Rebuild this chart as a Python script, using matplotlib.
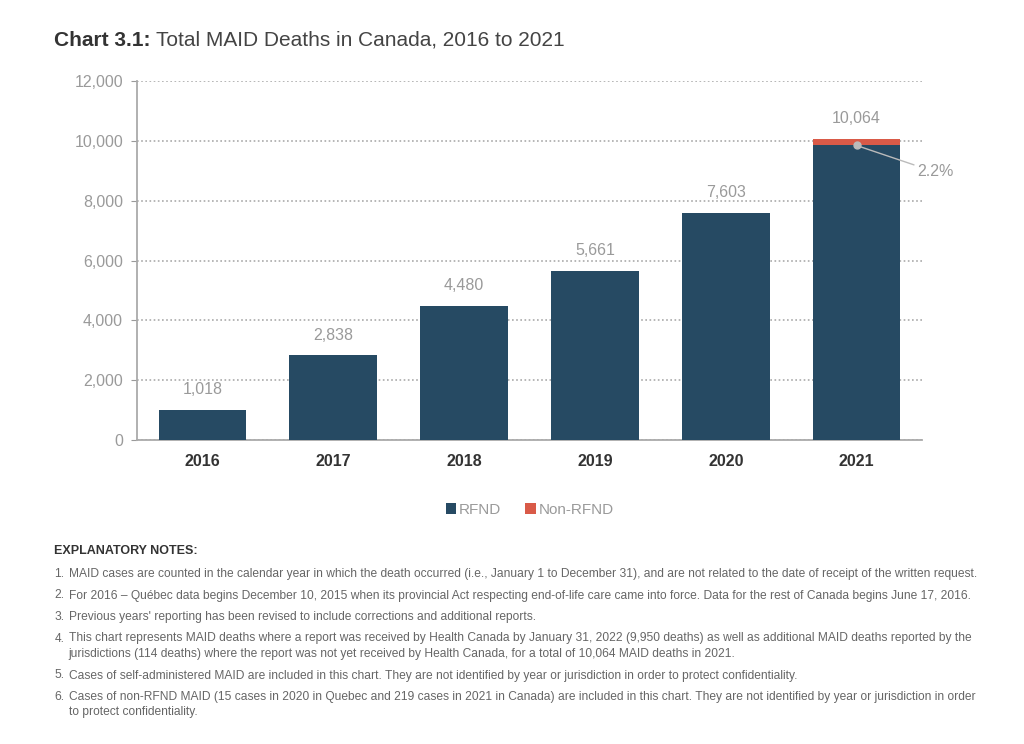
import matplotlib.pyplot as plt

years = ['2016', '2017', '2018', '2019', '2020', '2021']
rfnd = [1018, 2838, 4480, 5661, 7588, 9845]
non_rfnd = [0, 0, 0, 0, 15, 219]
totals = [1018, 2838, 4480, 5661, 7603, 10064]
pct_label = '2.2%'

notes = [
    ('1.', ['MAID cases are counted in the calendar year in which the death occurred (i.e., January 1 to December 31), and are not related to the date of receipt of the written request.']),
    ('2.', ['For 2016 \u2013 Qu\u00e9bec data begins December 10, 2015 when its provincial Act respecting end-of-life care came into force. Data for the rest of Canada begins June 17, 2016.']),
    ('3.', ["Previous years' reporting has been revised to include corrections and additional reports."]),
    ('4.', ['This chart represents MAID deaths where a report was received by Health Canada by January 31, 2022 (9,950 deaths) as well as additional MAID deaths reported by the',
            'jurisdictions (114 deaths) where the report was not yet received by Health Canada, for a total of 10,064 MAID deaths in 2021.']),
    ('5.', ['Cases of self-administered MAID are included in this chart. They are not identified by year or jurisdiction in order to protect confidentiality.']),
    ('6.', ['Cases of non-RFND MAID (15 cases in 2020 in Quebec and 219 cases in 2021 in Canada) are included in this chart. They are not identified by year or jurisdiction in order',
            'to protect confidentiality.']),
]

plt.rcParams['font.family'] = ['Liberation Sans', 'DejaVu Sans']

navy = '#264a63'
red = '#d95a48'
grey = '#9a9a9a'

fig = plt.figure(figsize=(10.24, 7.44), dpi=100)
ax = fig.add_axes([0.1338, 0.4086, 0.7666, 0.4825])

x = range(len(years))
ax.bar(x, rfnd, width=0.67, color=navy, label='RFND', zorder=3)
ax.bar(x, non_rfnd, width=0.67, bottom=rfnd, color=red, label='Non-RFND', zorder=3)

for i, t in enumerate(totals):
    ax.annotate(f'{t:,}', (i, t), xytext=(0, 9), textcoords='offset points',
                ha='center', va='bottom', fontsize=11.5, color=grey)

ax.plot([5], [rfnd[5]], 'o', color='#bbbbbb', markersize=5, zorder=4)
ax.annotate(pct_label, (5, rfnd[5]), xytext=(5.46, 8960), ha='left', va='center',
            fontsize=11.5, color=grey, annotation_clip=False,
            arrowprops=dict(arrowstyle='-', color='#bbbbbb', lw=1, shrinkA=0, shrinkB=2))

ax.set_xlim(-0.5, 5.5)
ax.set_ylim(0, 12000)
ax.set_yticks(range(0, 12001, 2000))
ax.set_yticklabels([f'{v:,}' for v in range(0, 12001, 2000)])
ax.set_xticks(list(x))
ax.set_xticklabels(years, fontweight='bold', fontsize=11.5, color='#333333')
ax.tick_params(axis='y', labelsize=11.5, labelcolor=grey, color=grey, length=4, pad=6)
ax.tick_params(axis='x', length=0, pad=10)
ax.yaxis.grid(True, linestyle=(0, (1, 1.5)), color='#aaaaaa', lw=1.2)
ax.set_axisbelow(True)
for s in ['top', 'right']:
    ax.spines[s].set_visible(False)
ax.spines['left'].set_color('#aaaaaa')
ax.spines['bottom'].set_color('#aaaaaa')
ax.spines['left'].set_linewidth(1.3)
ax.spines['bottom'].set_linewidth(1.3)

ax.legend(loc='center', bbox_to_anchor=(0.5, -0.195), ncol=2, frameon=False,
          fontsize=11, handlelength=0.7, handleheight=0.7, handletextpad=0.15,
          columnspacing=1.6, labelcolor=grey)

fig.text(0.053, 0.946, 'Chart 3.1:', fontsize=15, fontweight='bold', color='#333333', va='center')
fig.text(0.152, 0.946, 'Total MAID Deaths in Canada, 2016 to 2021', fontsize=15,
         color='#444444', va='center')

fig.text(0.053, 0.26, 'EXPLANATORY NOTES:', fontsize=9, fontweight='bold', color='#333333', va='center')
y = 577
for num, lines in notes:
    fig.text(0.053, 1 - y / 744, num, fontsize=8.65, color='#666666', va='baseline')
    for j, line in enumerate(lines):
        fig.text(0.067, 1 - (y + j * 15.5) / 744, line, fontsize=8.65, color='#666666', va='baseline')
    y += 21.5 + (len(lines) - 1) * 15.5

fig.savefig('out.png', dpi=100)
